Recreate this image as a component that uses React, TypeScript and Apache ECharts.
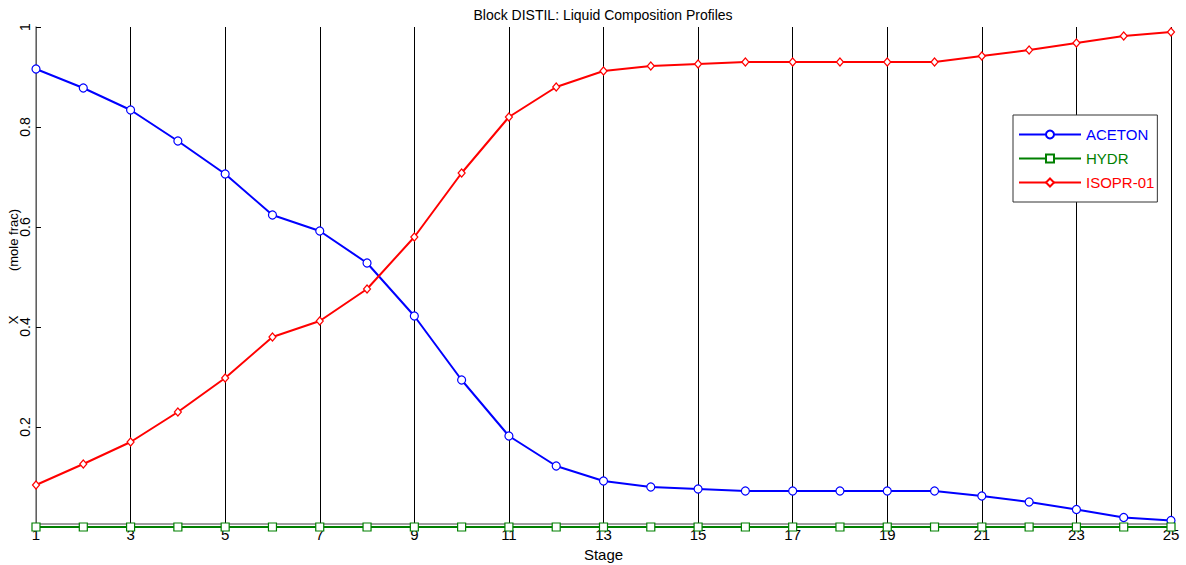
import React, { useEffect, useRef } from "react";
import * as echarts from "echarts";

const stages = [1, 2, 3, 4, 5, 6, 7, 8, 9, 10, 11, 12, 13, 14, 15, 16, 17, 18, 19, 20, 21, 22, 23, 24, 25];
const aceton = [0.916, 0.878, 0.834, 0.772, 0.706, 0.624, 0.592, 0.528, 0.422, 0.294, 0.182, 0.122, 0.092, 0.08, 0.076, 0.072, 0.072, 0.072, 0.072, 0.072, 0.062, 0.05, 0.035, 0.019, 0.013];
const hydr = [0, 0, 0, 0, 0, 0, 0, 0, 0, 0, 0, 0, 0, 0, 0, 0, 0, 0, 0, 0, 0, 0, 0, 0, 0];
const isopr = [0.084, 0.126, 0.17, 0.23, 0.298, 0.38, 0.412, 0.476, 0.58, 0.708, 0.82, 0.88, 0.912, 0.922, 0.926, 0.93, 0.93, 0.93, 0.93, 0.93, 0.942, 0.954, 0.968, 0.982, 0.99];
const yTicks = [0.2, 0.4, 0.6, 0.8, 1];
const yNameParts = ["X", "(mole frac)"];

const FONT = "Liberation Sans, Arial, Helvetica, sans-serif";

export default function App() {
  const ref = useRef<HTMLDivElement>(null);
  useEffect(() => {
    if (!ref.current) return;
    const chart = echarts.init(ref.current, null, { renderer: "svg" });
    const mk = (name: string, data: number[], color: string, symbol: string, size: any) => ({
      name,
      type: "line",
      data: stages.map((s, i) => [s, data[i]]),
      symbol,
      symbolSize: size,
      showAllSymbol: true,
      clip: false,
      lineStyle: { color, width: 2 },
      itemStyle: { color: "#ffffff", borderColor: color, borderWidth: 1.2 },
      emphasis: { disabled: true },
    });
    const nameText = (text: string, y: number) => ({
      type: "text",
      x: 13,
      y,
      rotation: Math.PI / 2,
      style: {
        text,
        fontSize: 13,
        fontFamily: FONT,
        fill: "#000",
        align: "center",
        verticalAlign: "middle",
      },
    });
    chart.setOption({
      animation: false,
      textStyle: { fontFamily: FONT },
      title: {
        text: "Block DISTIL: Liquid Composition Profiles",
        left: 598,
        textAlign: "center",
        top: 3,
        textStyle: { fontSize: 14, fontWeight: "normal", color: "#000", fontFamily: FONT },
      },
      graphic: [nameText(yNameParts[0], 320), nameText(yNameParts[1], 240)],
      grid: { left: 36, right: 15, top: 27, bottom: 41, containLabel: false, outerBoundsMode: "none" },
      legend: {
        left: 1013,
        top: 115,
        orient: "vertical",
        itemWidth: 62,
        itemHeight: 10,
        itemGap: 9,
        padding: [12, 3, 12, 5],
        borderColor: "#333",
        borderWidth: 1,
        backgroundColor: "#fff",
        selectedMode: false,
        textStyle: { fontSize: 15, fontFamily: FONT, color: "inherit" },
        data: [
          { name: "ACETON", textStyle: { color: "#0000ff" } },
          { name: "HYDR", textStyle: { color: "#008000" } },
          { name: "ISOPR-01", textStyle: { color: "#ff0000" } },
        ],
      },
      xAxis: {
        type: "value",
        min: 1,
        max: 25,
        interval: 2,
        name: "Stage",
        nameLocation: "middle",
        nameGap: 23,
        nameTextStyle: { fontSize: 15, color: "#000", fontFamily: FONT },
        axisLine: { lineStyle: { color: "#808080", width: 1.5 } },
        axisTick: { show: false },
        axisLabel: { fontSize: 15, color: "#000", margin: 3, fontFamily: FONT },
        splitLine: { show: true, lineStyle: { color: "#000", width: 1 } },
      },
      yAxis: {
        type: "value",
        min: 0.006,
        max: 1,
        axisLine: { show: true, lineStyle: { color: "#808080", width: 1.5 } },
        axisTick: { show: true, inside: true, length: 5, customValues: yTicks, lineStyle: { color: "#000" } },
        axisLabel: {
          fontSize: 14,
          color: "#000",
          rotate: 90,
          margin: 4,
          customValues: yTicks,
          fontFamily: FONT,
          formatter: (v: number) => String(Math.round(v * 10) / 10),
        },
        splitLine: { show: false },
      },
      series: [
        mk("ACETON", aceton, "#0000ff", "circle", 8),
        mk("HYDR", hydr, "#008000", "rect", 8),
        mk("ISOPR-01", isopr, "#ff0000", "diamond", [7, 8]),
      ],
    });
    return () => chart.dispose();
  }, []);
  return <div ref={ref} style={{ width: 1186, height: 565, position: "absolute", left: 0, top: 0 }} />;
}
